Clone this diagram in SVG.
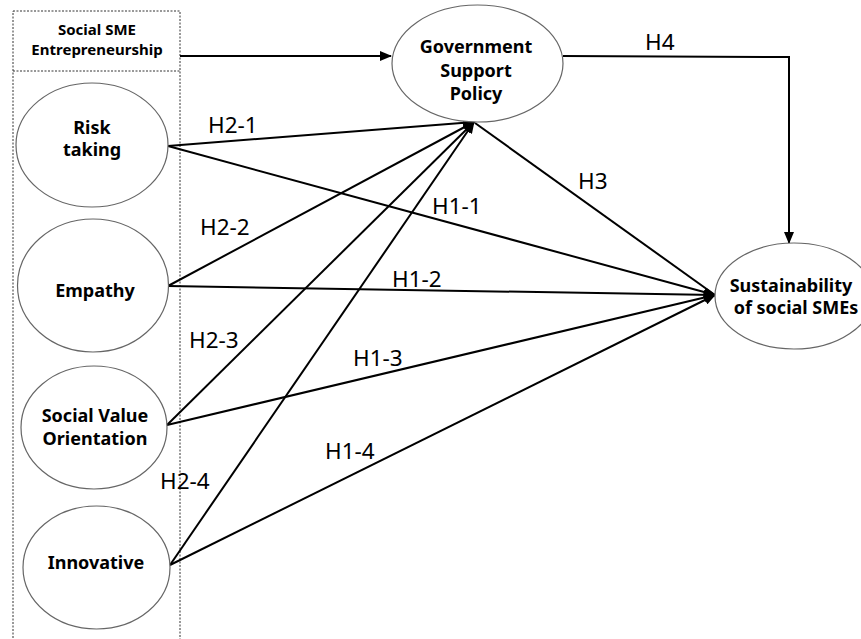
<svg xmlns="http://www.w3.org/2000/svg" width="861" height="639" viewBox="0 0 861 639">
  <defs>
    <marker id="arr" markerUnits="userSpaceOnUse" markerWidth="12" markerHeight="10" viewBox="0 0 12 10" refX="11" refY="5" orient="auto">
      <path d="M0,0 L12,5 L0,10 Z" fill="#000"/>
    </marker>
    <style>
      .box { fill: none; stroke: #333; stroke-width: 1; stroke-dasharray: 2 1.5; }
      .node { fill: #fff; stroke: #666; stroke-width: 1.2; }
      .nt { font-family: "Noto Sans", "Open Sans", sans-serif; font-weight: bold; font-size: 18px; fill: #000; text-anchor: middle; }
      .st { font-family: "Noto Sans", "Open Sans", sans-serif; font-weight: bold; font-size: 15px; fill: #000; text-anchor: middle; }
      .lbl { font-family: "Noto Sans", "Open Sans", sans-serif; font-size: 22.5px; fill: #000; }
      .c { fill: none; stroke: #000; stroke-width: 2; }
      .ca { fill: none; stroke: #000; stroke-width: 2; marker-end: url(#arr); }
    </style>
  </defs>
  <rect width="861" height="639" fill="#fff"/>

  <g id="group-box">
    <rect class="box" x="13" y="11" width="167" height="640"/>
    <line class="box" x1="13" y1="71" x2="180" y2="71"/>
    <text class="st" x="97" y="35">Social SME</text>
    <text class="st" x="97" y="55">Entrepreneurship</text>
  </g>

  <g id="connectors">
    <line class="ca" x1="180" y1="56" x2="391" y2="56"/>
    <polyline class="ca" points="563,56 789,57 789,243"/>
    <line class="c" x1="475" y1="123" x2="715" y2="295"/>
    <line class="ca" x1="168" y1="146" x2="474" y2="122"/>
    <line class="ca" x1="168" y1="146" x2="715" y2="295"/>
    <line class="ca" x1="168" y1="286" x2="474" y2="122"/>
    <line class="ca" x1="168" y1="286" x2="715" y2="295"/>
    <line class="ca" x1="167" y1="425" x2="474" y2="122"/>
    <line class="ca" x1="167" y1="425" x2="715" y2="295"/>
    <line class="ca" x1="170" y1="565" x2="474" y2="122"/>
    <line class="ca" x1="170" y1="565" x2="715" y2="295"/>
  </g>

  <g id="labels">
    <text class="lbl" x="208" y="133">H2-1</text>
    <text class="lbl" x="645" y="50">H4</text>
    <text class="lbl" x="578" y="189">H3</text>
    <text class="lbl" x="432" y="214">H1-1</text>
    <text class="lbl" x="200" y="235">H2-2</text>
    <text class="lbl" x="392" y="287">H1-2</text>
    <text class="lbl" x="189" y="348">H2-3</text>
    <text class="lbl" x="353" y="366">H1-3</text>
    <text class="lbl" x="160" y="489">H2-4</text>
    <text class="lbl" x="325" y="459">H1-4</text>
  </g>

  <g id="node-risk">
    <ellipse class="node" cx="92" cy="145" rx="76" ry="62"/>
    <text class="nt" x="92" y="134">Risk</text>
    <text class="nt" x="92" y="156">taking</text>
  </g>
  <g id="node-empathy">
    <ellipse class="node" cx="93" cy="285.5" rx="75.5" ry="66.5"/>
    <text class="nt" x="95" y="297">Empathy</text>
  </g>
  <g id="node-svo">
    <ellipse class="node" cx="94" cy="427.5" rx="73" ry="61.5"/>
    <text class="nt" x="95" y="422">Social Value</text>
    <text class="nt" x="95" y="445">Orientation</text>
  </g>
  <g id="node-innovative">
    <ellipse class="node" cx="96.5" cy="567.5" rx="73.5" ry="61.5"/>
    <text class="nt" x="96" y="569">Innovative</text>
  </g>
  <g id="node-government">
    <ellipse class="node" cx="477.5" cy="63.5" rx="85.5" ry="58.5"/>
    <text class="nt" x="476" y="53">Government</text>
    <text class="nt" x="476" y="77">Support</text>
    <text class="nt" x="476" y="100">Policy</text>
  </g>
  <g id="node-sustainability">
    <ellipse class="node" cx="794" cy="296" rx="79" ry="53"/>
    <text class="nt" x="791" y="292">Sustainability</text>
    <text class="nt" x="796" y="314">of social SMEs</text>
  </g>
</svg>
